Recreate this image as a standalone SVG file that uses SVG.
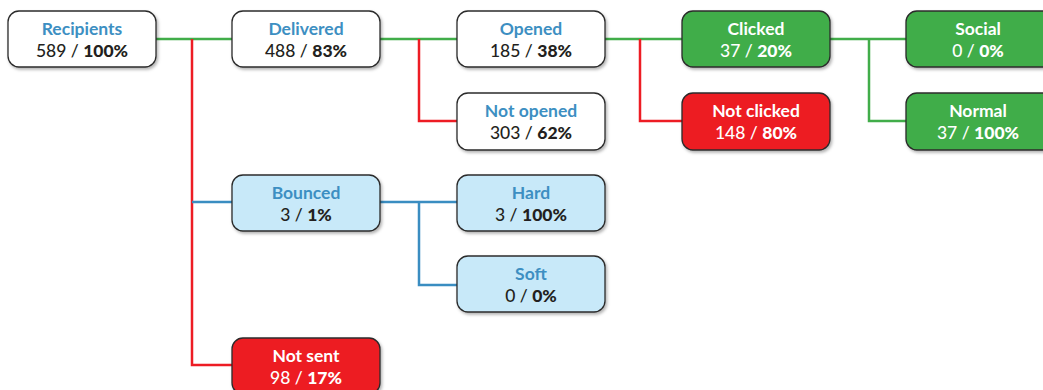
<svg xmlns="http://www.w3.org/2000/svg" width="1043" height="390" viewBox="0 0 1043 390">
<defs>
<filter id="sh" x="-10%" y="-10%" width="125%" height="140%">
<feDropShadow dx="1.5" dy="2" stdDeviation="1.5" flood-color="#000" flood-opacity="0.3"/>
</filter>
</defs>
<style>
.box{stroke:#2b2b2b;stroke-width:1.3;filter:url(#sh)}
.w{fill:#ffffff}.b{fill:#c8e9f9}.g{fill:#41ad49}.r{fill:#ed1c24}
text{font-family:Lato,"Liberation Sans",sans-serif;font-size:17.5px;text-anchor:middle}
.t{fill:#3d8fc2;font-weight:bold}.n{fill:#231f20;font-weight:500}.wt{fill:#ffffff;font-weight:500}
.ti{font-weight:bold}
.bold{font-weight:900}
.cg,.cr,.cb{fill:none;stroke-width:2.5}
.cg{stroke:#41ad49}.cr{stroke:#ed1c24}.cb{stroke:#3a8dc1}
</style>
<g id="connectors">
<path class="cg" d="M156 39H232M380 39H457M605 39H682M830 39H906"/>
<path class="cg" d="M869 39V121H906"/>
<path class="cr" d="M192 39V365H232"/>
<path class="cr" d="M419 39V121H457"/>
<path class="cr" d="M640 39V121H682"/>
<path class="cb" d="M192 202H232M380 202H457M419 202V285H457"/>
</g>
<g id="recipients">
<rect class="box w" x="8" y="11" width="148" height="56" rx="11"/>
<text x="82" y="35" class="t">Recipients</text>
<text x="82" y="56.5" class="n">589 / <tspan class="bold">100%</tspan></text>
</g>
<g id="delivered">
<rect class="box w" x="232" y="11" width="148" height="56" rx="11"/>
<text x="306" y="35" class="t">Delivered</text>
<text x="306" y="56.5" class="n">488 / <tspan class="bold">83%</tspan></text>
</g>
<g id="opened">
<rect class="box w" x="457" y="11" width="148" height="56" rx="11"/>
<text x="531" y="35" class="t">Opened</text>
<text x="531" y="56.5" class="n">185 / <tspan class="bold">38%</tspan></text>
</g>
<g id="clicked">
<rect class="box g" x="682" y="11" width="148" height="56" rx="11"/>
<text x="756" y="35" class="wt ti">Clicked</text>
<text x="756" y="56.5" class="wt">37 / <tspan class="bold">20%</tspan></text>
</g>
<g id="social">
<rect class="box g" x="906" y="11" width="148" height="56" rx="11"/>
<text x="978" y="35" class="wt ti">Social</text>
<text x="978" y="56.5" class="wt">0 / <tspan class="bold">0%</tspan></text>
</g>
<g id="not-opened">
<rect class="box w" x="457" y="93" width="148" height="57" rx="11"/>
<text x="531" y="117" class="t">Not opened</text>
<text x="531" y="138.5" class="n">303 / <tspan class="bold">62%</tspan></text>
</g>
<g id="not-clicked">
<rect class="box r" x="682" y="93" width="148" height="57" rx="11"/>
<text x="756" y="117" class="wt ti">Not clicked</text>
<text x="756" y="138.5" class="wt">148 / <tspan class="bold">80%</tspan></text>
</g>
<g id="normal">
<rect class="box g" x="906" y="93" width="148" height="57" rx="11"/>
<text x="978" y="117" class="wt ti">Normal</text>
<text x="978" y="138.5" class="wt">37 / <tspan class="bold">100%</tspan></text>
</g>
<g id="bounced">
<rect class="box b" x="232" y="175" width="148" height="56" rx="11"/>
<text x="306" y="199" class="t">Bounced</text>
<text x="306" y="220.5" class="n">3 / <tspan class="bold">1%</tspan></text>
</g>
<g id="hard">
<rect class="box b" x="457" y="175" width="148" height="56" rx="11"/>
<text x="531" y="199" class="t">Hard</text>
<text x="531" y="220.5" class="n">3 / <tspan class="bold">100%</tspan></text>
</g>
<g id="soft">
<rect class="box b" x="457" y="256" width="148" height="56" rx="11"/>
<text x="531" y="280" class="t">Soft</text>
<text x="531" y="301.5" class="n">0 / <tspan class="bold">0%</tspan></text>
</g>
<g id="not-sent">
<rect class="box r" x="232" y="338" width="148" height="56" rx="11"/>
<text x="306" y="362" class="wt ti">Not sent</text>
<text x="306" y="383.5" class="wt">98 / <tspan class="bold">17%</tspan></text>
</g>
</svg>
